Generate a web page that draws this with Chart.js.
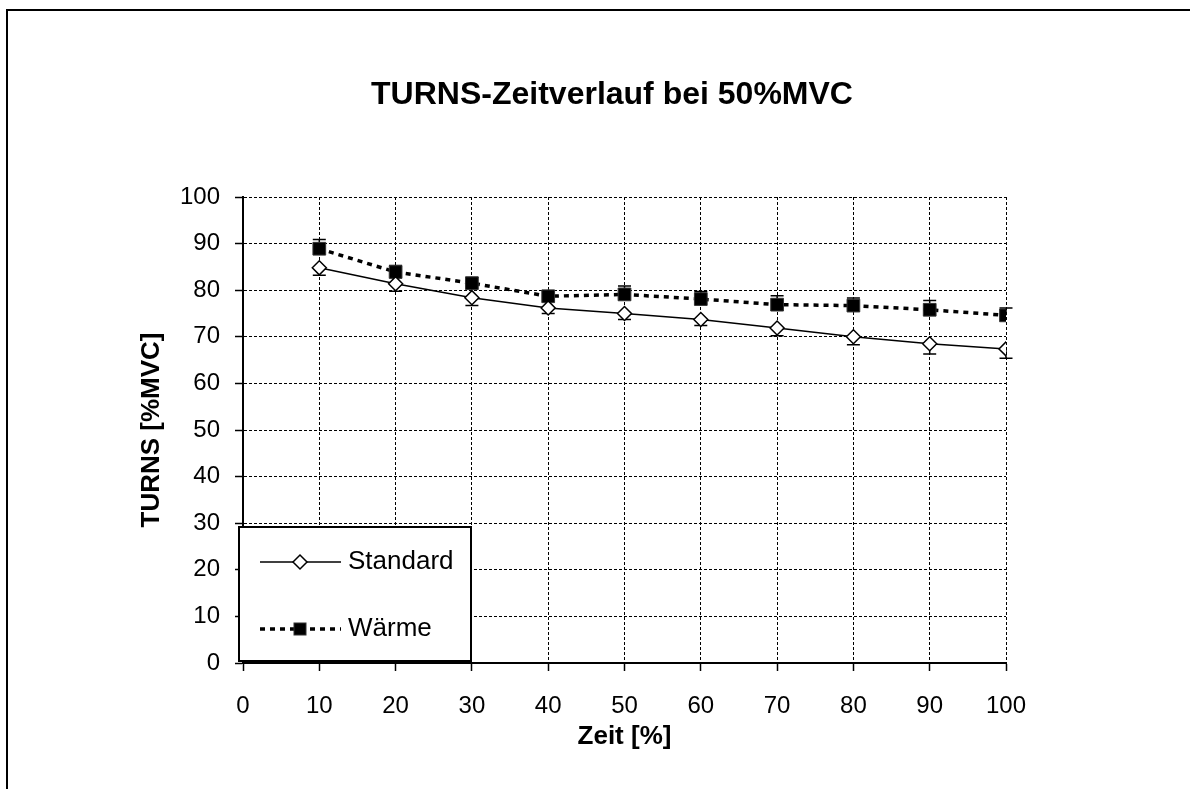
<!DOCTYPE html>
<html lang="de">
<head>
    <meta charset="UTF-8">
    <title>TURNS-Zeitverlauf bei 50%MVC</title>
    <script src="https://cdn.jsdelivr.net/npm/chart.js"></script>
    <style>
        body { margin: 0; background: #fff; }
        canvas { display: block; }
    </style>
</head>
<body>
    <canvas id="turnsChart" width="1190" height="789"></canvas>

    <script>
        const chartTitle = 'TURNS-Zeitverlauf bei 50%MVC';
        const xTitle = 'Zeit [%]';
        const yTitle = 'TURNS [%MVC]';

        const zeit = [10, 20, 30, 40, 50, 60, 70, 80, 90, 100];
        const standard = [84.8, 81.4, 78.4, 76.2, 75.0, 73.7, 71.9, 70.0, 68.5, 67.4];
        const standardErrMinus = [1.6, 1.6, 1.7, 1.2, 1.3, 1.3, 1.7, 1.7, 2.2, 2.0];
        const waerme = [88.9, 83.9, 81.5, 78.7, 79.1, 78.1, 76.9, 76.7, 75.8, 74.6];
        const waermeErrPlus = [2.0, 1.4, 1.2, 1.2, 1.8, 1.6, 1.9, 1.6, 2.0, 1.6];

        const FONT = '"Liberation Sans", Arial, sans-serif';

        function toPoints(xs, ys) {
            return xs.map((x, i) => ({ x: x, y: ys[i] }));
        }

        // frame round the chart object (only top and left edge are visible)
        const framePlugin = {
            id: 'frame',
            beforeDraw(chart) {
                const ctx = chart.ctx;
                ctx.save();
                ctx.strokeStyle = '#000';
                ctx.lineWidth = 2;
                ctx.beginPath();
                ctx.moveTo(1190, 10);
                ctx.lineTo(7, 10);
                ctx.lineTo(7, 789);
                ctx.stroke();
                ctx.restore();
            }
        };

        const titlePlugin = {
            id: 'bigTitle',
            afterDraw(chart) {
                const ctx = chart.ctx;
                ctx.save();
                ctx.font = 'bold 32px ' + FONT;
                ctx.fillStyle = '#000';
                ctx.textAlign = 'center';
                ctx.textBaseline = 'middle';
                ctx.fillText(chartTitle, 612, 95);
                ctx.restore();
            }
        };

        // one-sided error bars: Standard downwards, Wärme upwards
        const errorBarPlugin = {
            id: 'errorBars',
            beforeDatasetsDraw(chart) {
                const ctx = chart.ctx;
                const yScale = chart.scales.y;
                const errs = [
                    { values: standard, err: standardErrMinus, sign: -1 },
                    { values: waerme, err: waermeErrPlus, sign: 1 }
                ];
                ctx.save();
                ctx.strokeStyle = '#000';
                ctx.lineWidth = 1.5;
                errs.forEach((e, di) => {
                    const meta = chart.getDatasetMeta(di);
                    meta.data.forEach((pt, i) => {
                        const yEnd = yScale.getPixelForValue(e.values[i] + e.sign * e.err[i]);
                        ctx.beginPath();
                        ctx.moveTo(pt.x, pt.y);
                        ctx.lineTo(pt.x, yEnd);
                        ctx.moveTo(pt.x - 6.5, yEnd);
                        ctx.lineTo(pt.x + 6.5, yEnd);
                        ctx.stroke();
                    });
                });
                ctx.restore();
            }
        };

        const legendPlugin = {
            id: 'boxLegend',
            afterDraw(chart) {
                const ctx = chart.ctx;
                const area = chart.chartArea;
                const left = area.left - 4;
                const bottom = area.bottom - 2;
                const w = 232, h = 134;
                const top = bottom - h;
                ctx.save();
                ctx.fillStyle = '#fff';
                ctx.fillRect(left, top, w, h);
                ctx.strokeStyle = '#000';
                ctx.lineWidth = 2;
                ctx.strokeRect(left, top, w, h);

                const x1 = left + 21, x2 = left + 102, mx = left + 61;
                const y1 = top + 35, y2 = top + 102;

                // Standard
                ctx.lineWidth = 1.5;
                ctx.beginPath();
                ctx.moveTo(x1, y1);
                ctx.lineTo(x2, y1);
                ctx.stroke();
                ctx.beginPath();
                ctx.moveTo(mx - 7, y1);
                ctx.lineTo(mx, y1 - 7);
                ctx.lineTo(mx + 7, y1);
                ctx.lineTo(mx, y1 + 7);
                ctx.closePath();
                ctx.fillStyle = '#fff';
                ctx.fill();
                ctx.stroke();

                // Wärme
                ctx.lineWidth = 3.5;
                ctx.setLineDash([5, 5]);
                ctx.beginPath();
                ctx.moveTo(x1, y2);
                ctx.lineTo(x2, y2);
                ctx.stroke();
                ctx.setLineDash([]);
                ctx.fillStyle = '#000';
                ctx.fillRect(mx - 6, y2 - 6, 12, 12);
                ctx.strokeStyle = '#333';
                ctx.lineWidth = 1;
                ctx.strokeRect(mx - 6, y2 - 6, 12, 12);

                ctx.fillStyle = '#000';
                ctx.font = '26px ' + FONT;
                ctx.textAlign = 'left';
                ctx.textBaseline = 'middle';
                ctx.fillText('Standard', left + 109, y1);
                ctx.fillText('Wärme', left + 109, y2);
                ctx.restore();
            }
        };

        const gridOpts = {
            color: '#000',
            lineWidth: 1,
            drawTicks: true,
            tickLength: 8,
            tickColor: '#000',
            tickWidth: 1.5,
            tickBorderDash: []
        };
        // in Chart.js v4 border.dash is the dash of the grid lines
        const borderOpts = { color: '#000', width: 2, dash: [3, 2] };

        new Chart(document.getElementById('turnsChart').getContext('2d'), {
            type: 'line',
            data: {
                datasets: [{
                    label: 'Standard',
                    data: toPoints(zeit, standard),
                    borderColor: '#000',
                    borderWidth: 1.5,
                    pointStyle: 'rectRot',
                    pointRadius: 7,
                    pointBackgroundColor: '#fff',
                    pointBorderColor: '#000',
                    pointBorderWidth: 1.5,
                    tension: 0
                }, {
                    label: 'Wärme',
                    data: toPoints(zeit, waerme),
                    borderColor: '#000',
                    borderWidth: 3.5,
                    borderDash: [5, 5],
                    pointStyle: 'rect',
                    pointRadius: 9,
                    pointBackgroundColor: '#000',
                    pointBorderColor: '#333',
                    pointBorderWidth: 1,
                    tension: 0
                }]
            },
            options: {
                responsive: false,
                animation: false,
                events: [],
                layout: { padding: { left: 136, right: 184, top: 197, bottom: 37 } },
                plugins: {
                    legend: { display: false },
                    title: { display: false },
                    tooltip: { enabled: false }
                },
                scales: {
                    x: {
                        type: 'linear',
                        min: 0,
                        max: 100,
                        afterFit: s => { s.height = 89; },
                        ticks: { stepSize: 10, color: '#000', padding: 21, font: { family: FONT, size: 24 } },
                        grid: gridOpts,
                        border: borderOpts,
                        title: { display: true, text: xTitle, color: '#000', padding: 0, font: { family: FONT, size: 26, weight: 'bold' } }
                    },
                    y: {
                        min: 0,
                        max: 100,
                        afterFit: s => { s.width = 107; },
                        ticks: { stepSize: 10, color: '#000', padding: 15, font: { family: FONT, size: 24 } },
                        grid: gridOpts,
                        border: borderOpts,
                        title: { display: true, text: yTitle, color: '#000', padding: 0, font: { family: FONT, size: 26, weight: 'bold' } }
                    }
                }
            },
            plugins: [framePlugin, errorBarPlugin, legendPlugin, titlePlugin]
        });
    </script>
</body>
</html>
